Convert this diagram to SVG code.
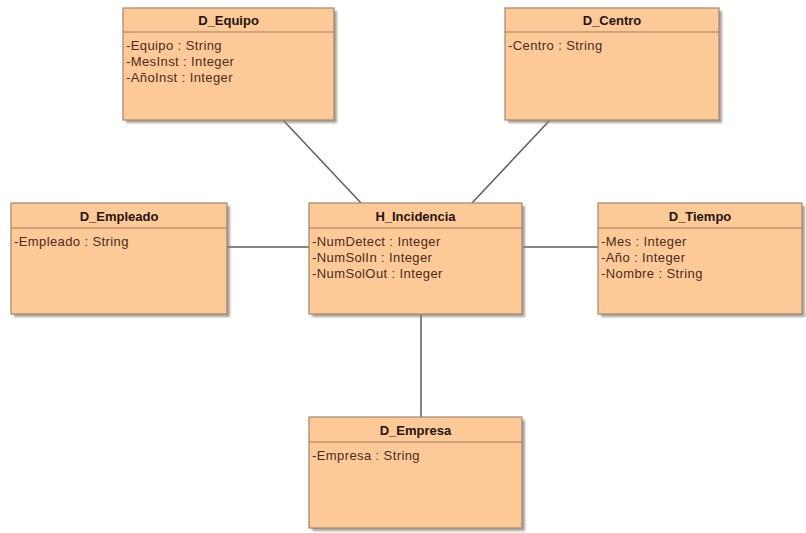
<svg xmlns="http://www.w3.org/2000/svg" width="806" height="533" viewBox="0 0 806 533">
  <defs>
    <filter id="soft" x="-5%" y="-5%" width="110%" height="110%">
      <feGaussianBlur stdDeviation="1"/>
    </filter>
  </defs>
  <style>
    .shadow { fill: #8c8478; opacity: 0.75; filter: url(#soft); }
    .box { fill: #fdca97; stroke: #a08870; stroke-width: 1.2; }
    .sep { stroke: #a07c5c; stroke-width: 1.2; }
    .title { font-family: "Liberation Sans", Arial, sans-serif; font-size: 13px; font-weight: bold; fill: #24140e; text-anchor: middle; }
    .attr { font-family: "Liberation Sans", Arial, sans-serif; font-size: 13px; fill: #4a2a22; letter-spacing: 0.4px; }
    .link { stroke: #5e5e5e; stroke-width: 1.5; fill: none; }
  </style>
  <rect width="806" height="533" fill="#ffffff"/>

  <!-- associations between the fact class and its dimensions -->
  <g id="connectors">
    <line class="link" x1="283" y1="120" x2="361" y2="203"/>
    <line class="link" x1="550" y1="120" x2="472" y2="203"/>
    <line class="link" x1="227" y1="247" x2="309" y2="247"/>
    <line class="link" x1="522" y1="247" x2="598" y2="247"/>
    <line class="link" x1="421" y1="314" x2="421" y2="417"/>
  </g>

  <g id="D_Equipo">
    <rect class="shadow" x="126" y="11" width="211" height="112"/>
    <rect class="box" x="123" y="8" width="211" height="112"/>
    <line class="sep" x1="123" y1="32" x2="334" y2="32"/>
    <text class="title" x="228.5" y="25">D_Equipo</text>
    <text class="attr" x="126" y="50">-Equipo : String</text>
    <text class="attr" x="126" y="66">-MesInst : Integer</text>
    <text class="attr" x="126" y="82">-AñoInst : Integer</text>
  </g>

  <g id="D_Centro">
    <rect class="shadow" x="508" y="11" width="214" height="112"/>
    <rect class="box" x="505" y="8" width="214" height="112"/>
    <line class="sep" x1="505" y1="32" x2="719" y2="32"/>
    <text class="title" x="612" y="25">D_Centro</text>
    <text class="attr" x="508" y="50">-Centro : String</text>
  </g>

  <g id="D_Empleado">
    <rect class="shadow" x="14" y="206" width="216" height="111"/>
    <rect class="box" x="11" y="203" width="216" height="111"/>
    <line class="sep" x1="11" y1="228" x2="227" y2="228"/>
    <text class="title" x="119" y="221">D_Empleado</text>
    <text class="attr" x="14" y="246">-Empleado : String</text>
  </g>

  <g id="H_Incidencia">
    <rect class="shadow" x="312" y="206" width="213" height="111"/>
    <rect class="box" x="309" y="203" width="213" height="111"/>
    <line class="sep" x1="309" y1="228" x2="522" y2="228"/>
    <text class="title" x="415.5" y="221">H_Incidencia</text>
    <text class="attr" x="312" y="246">-NumDetect : Integer</text>
    <text class="attr" x="312" y="262">-NumSolIn : Integer</text>
    <text class="attr" x="312" y="278">-NumSolOut : Integer</text>
  </g>

  <g id="D_Tiempo">
    <rect class="shadow" x="601" y="206" width="204" height="111"/>
    <rect class="box" x="598" y="203" width="204" height="111"/>
    <line class="sep" x1="598" y1="228" x2="802" y2="228"/>
    <text class="title" x="700" y="221">D_Tiempo</text>
    <text class="attr" x="601" y="246">-Mes : Integer</text>
    <text class="attr" x="601" y="262">-Año : Integer</text>
    <text class="attr" x="601" y="278">-Nombre : String</text>
  </g>

  <g id="D_Empresa">
    <rect class="shadow" x="312" y="420" width="213" height="111"/>
    <rect class="box" x="309" y="417" width="213" height="111"/>
    <line class="sep" x1="309" y1="442" x2="522" y2="442"/>
    <text class="title" x="415.5" y="435">D_Empresa</text>
    <text class="attr" x="312" y="460">-Empresa : String</text>
  </g>
</svg>
